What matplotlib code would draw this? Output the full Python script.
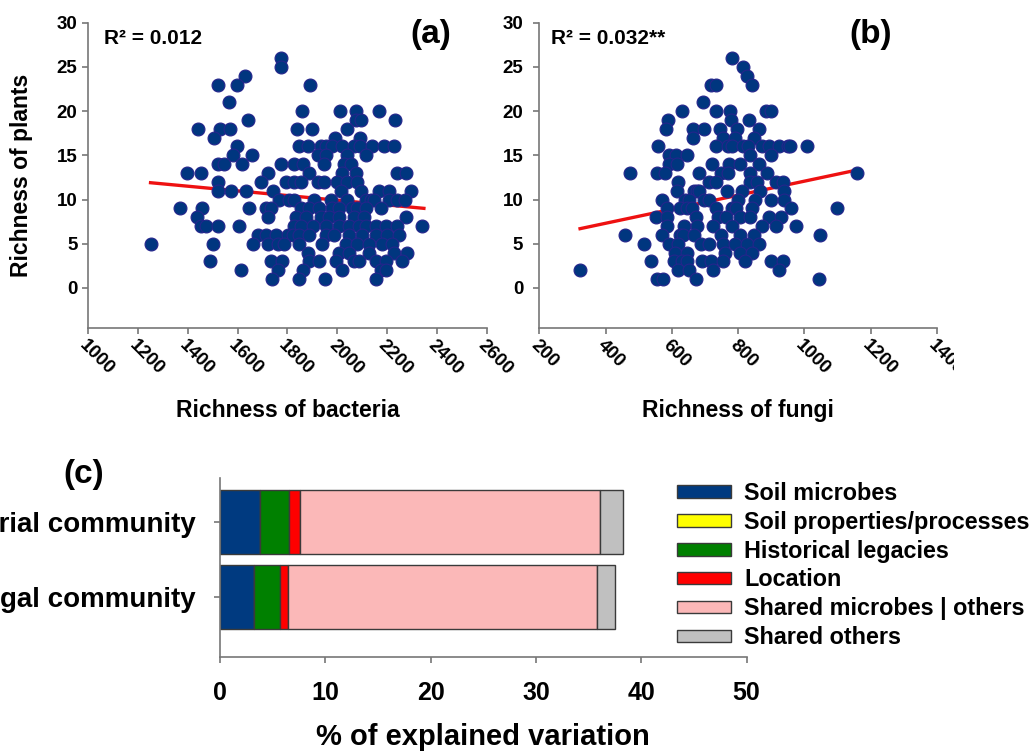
import matplotlib
matplotlib.use('Agg')
import matplotlib.pyplot as plt
from matplotlib.transforms import Bbox, TransformedBbox

# ---- panel (a): plant richness vs bacterial richness ----
bact_rich = [
    1776,
    1776,
    1632,
    1521, 1596, 1891,
    1565,
    1859, 2011, 2077, 2168,
    1643, 2075, 2095, 2231,
    1441, 1528, 1571, 1839, 1899, 2041,
    1504, 1992, 2092,
    1597, 1848, 1881, 1935, 1955, 1981, 2021, 2068, 2091, 2139, 2188, 2228,
    1581, 1659, 1921, 1955, 2041, 2115,
    1521, 1544, 1619, 1775, 1828, 1861, 1948, 2028, 2055,
    1399, 1452, 1721, 1888, 2021, 2075, 2241, 2275,
    1521, 1695, 1795, 1828, 1855, 1921, 1948, 2001, 2041, 2081,
    1521, 1575, 1635, 1741, 2015, 2095, 2168, 2208, 2295,
    1768, 1808, 1828, 1908, 1975, 2041, 2115, 2135, 2148, 2208, 2241, 2272,
    1368, 1459, 1645, 1715, 1735, 1855, 1888, 1928, 1981, 2008, 2061, 2081, 2115, 2175,
    1437, 1721, 1835, 1875, 1935, 1968, 2008, 2068, 2108, 2275,
    1455, 1475, 1521, 1604, 1828, 1855, 1901, 1955, 2008, 2048, 2088, 2115, 2155, 2195, 2241, 2341,
    1681, 1715, 1755, 1801, 1821, 1848, 1888, 1955, 1988, 2048, 2101, 2155, 2201, 2248,
    1252, 1501, 1661, 1721, 1761, 1788, 1848, 1941, 2035, 2081, 2128, 2181, 2221,
    1881, 2008, 2048, 2128, 2228, 2281,
    1488, 1735, 1779, 1888, 1928, 1995, 2068, 2088, 2155, 2195, 2261,
    1615, 1761, 1861, 2021, 2175, 2195,
    1739, 1848, 1952, 2155,
]
plants_a = [
    26,
    25,
    24,
    23, 23, 23,
    21,
    20, 20, 20, 20,
    19, 19, 19, 19,
    18, 18, 18, 18, 18, 18,
    17, 17, 17,
    16, 16, 16, 16, 16, 16, 16, 16, 16, 16, 16, 16,
    15, 15, 15, 15, 15, 15,
    14, 14, 14, 14, 14, 14, 14, 14, 14,
    13, 13, 13, 13, 13, 13, 13, 13,
    12, 12, 12, 12, 12, 12, 12, 12, 12, 12,
    11, 11, 11, 11, 11, 11, 11, 11, 11,
    10, 10, 10, 10, 10, 10, 10, 10, 10, 10, 10, 10,
    9, 9, 9, 9, 9, 9, 9, 9, 9, 9, 9, 9, 9, 9,
    8, 8, 8, 8, 8, 8, 8, 8, 8, 8,
    7, 7, 7, 7, 7, 7, 7, 7, 7, 7, 7, 7, 7, 7, 7, 7,
    6, 6, 6, 6, 6, 6, 6, 6, 6, 6, 6, 6, 6, 6,
    5, 5, 5, 5, 5, 5, 5, 5, 5, 5, 5, 5, 5,
    4, 4, 4, 4, 4, 4,
    3, 3, 3, 3, 3, 3, 3, 3, 3, 3, 3,
    2, 2, 2, 2, 2, 2,
    1, 1, 1, 1,
]
fit_a_x = [1251, 2348]
fit_a_y = [11.9, 9.0]

# ---- panel (b): plant richness vs fungal richness ----
fungi_rich = [
    780,
    816,
    826,
    718, 734, 842,
    694,
    631, 734, 775, 883, 899,
    588, 778, 834,
    581, 664, 698, 744, 798, 862,
    664, 754, 790, 847,
    557, 734, 770, 780, 816, 831, 873, 893, 924, 950, 955, 1009,
    592, 612, 646, 837, 900,
    590, 615, 720, 772, 806, 862,
    474, 554, 580, 681, 749, 770, 837, 888, 1160,
    620, 713, 734, 837, 856, 913, 934,
    615, 667, 675, 682, 765, 811, 867, 939,
    570, 641, 651, 698, 713, 800, 852, 898, 939,
    584, 626, 646, 660, 734, 780, 793, 842, 958, 1099,
    552, 584, 672, 740, 762, 806, 837, 893, 929,
    584, 636, 677, 723, 780, 873, 913, 975,
    458, 569, 626, 634, 667, 749, 806, 847, 1047,
    516, 590, 620, 687, 713, 754, 790, 826, 862,
    610, 646, 759, 806, 842,
    536, 605, 630, 646, 692, 718, 754, 821, 900, 934,
    324, 620, 651, 723, 924,
    554, 574, 672, 1045,
]
plants_b = [
    26,
    25,
    24,
    23, 23, 23,
    21,
    20, 20, 20, 20, 20,
    19, 19, 19,
    18, 18, 18, 18, 18, 18,
    17, 17, 17, 17,
    16, 16, 16, 16, 16, 16, 16, 16, 16, 16, 16, 16,
    15, 15, 15, 15, 15,
    14, 14, 14, 14, 14, 14,
    13, 13, 13, 13, 13, 13, 13, 13, 13,
    12, 12, 12, 12, 12, 12, 12,
    11, 11, 11, 11, 11, 11, 11, 11,
    10, 10, 10, 10, 10, 10, 10, 10, 10,
    9, 9, 9, 9, 9, 9, 9, 9, 9, 9,
    8, 8, 8, 8, 8, 8, 8, 8, 8,
    7, 7, 7, 7, 7, 7, 7, 7,
    6, 6, 6, 6, 6, 6, 6, 6, 6,
    5, 5, 5, 5, 5, 5, 5, 5, 5,
    4, 4, 4, 4, 4,
    3, 3, 3, 3, 3, 3, 3, 3, 3, 3,
    2, 2, 2, 2, 2,
    1, 1, 1, 1,
]
fit_b_x = [323, 1148]
fit_b_y = [6.7, 13.25]

# ---- panel (c): variation partitioning ----
communities = ['Bacterial community', 'Fungal community']
part_names = ['Soil microbes', 'Soil properties/processes', 'Historical legacies',
              'Location', 'Shared microbes | others', 'Shared others']
soil_microbes = [3.8, 3.26]
soil_props = [0.0, 0.0]
hist_legacies = [2.75, 2.47]
location = [1.08, 0.73]
shared_microbes = [28.47, 29.34]
shared_others = [2.2, 1.7]
part_colors = ['#003a80', '#ffff00', '#008000', '#ff0000', '#fbb8b8', '#c0c0c0']

plt.rcParams['font.family'] = ['Liberation Sans', 'DejaVu Sans']
plt.rcParams['font.weight'] = 'bold'

W, H = 1034, 753
fig = plt.figure(figsize=(W / 100, H / 100), dpi=100)

def px_rect(left, top, right, bottom):
    return [left / W, 1 - bottom / H, (right - left) / W, (bottom - top) / H]

ax_a = fig.add_axes(px_rect(88, 22.7, 486.7, 327.7))
ax_b = fig.add_axes(px_rect(539.3, 22.7, 937, 327.7))
ax_c = fig.add_axes(px_rect(220, 478, 746.5, 657))

axis_grey = '#777777'

def style_axes(ax):
    for s in ['top', 'right']:
        ax.spines[s].set_visible(False)
    for s in ['left', 'bottom']:
        ax.spines[s].set_color(axis_grey)
        ax.spines[s].set_linewidth(1.2)
    ax.tick_params(direction='out', length=4.5, width=1.2, color=axis_grey)

def scatter_panel(ax, xs, ys, fx, fy, xlim, xticks, ypad):
    ax.plot(fx, fy, color='#ee1111', lw=2.4, zorder=2)
    ax.scatter(xs, ys, s=86, c='#00367f', edgecolors='#25258c', linewidths=0.8, zorder=3)
    ax.set_xlim(xlim)
    ax.set_ylim(-4.5, 30)
    ax.set_yticks(range(0, 31, 5))
    ax.set_xticks(xticks)
    ax.set_xticklabels([str(t) for t in xticks], rotation=-45, ha='left', va='top',
                       rotation_mode='anchor')
    style_axes(ax)
    ax.tick_params(axis='both', labelsize=13.5)
    ax.tick_params(axis='y', pad=ypad)
    ax.tick_params(axis='x', pad=2)

scatter_panel(ax_a, bact_rich, plants_a, fit_a_x, fit_a_y, (1000, 2600),
              list(range(1000, 2601, 200)), 3)
scatter_panel(ax_b, fungi_rich, plants_b, fit_b_x, fit_b_y, (200, 1400),
              list(range(200, 1401, 200)), 7)

# last fungal tick label is cut off in the original
lab = ax_b.get_xticklabels()[-1]
lab.set_clip_box(TransformedBbox(Bbox([[0, 0], [954 / W, 1]]), fig.transFigure))
lab.set_clip_on(True)

fig.text(21.7 / W, 1 - 175 / H, 'Richness of plants', rotation=90, fontsize=16.5,
         ha='center', va='center')
fig.text(287.5 / W, 1 - 411 / H, 'Richness of bacteria', fontsize=16.5, ha='center', va='center')
fig.text(738 / W, 1 - 411 / H, 'Richness of fungi', fontsize=16.5, ha='center', va='center')
fig.text(104 / W, 1 - 38 / H, 'R² = 0.012', fontsize=15, ha='left', va='center')
fig.text(551 / W, 1 - 38 / H, 'R² = 0.032**', fontsize=15, ha='left', va='center')
fig.text(431 / W, 1 - 35 / H, '(a)', fontsize=24, ha='center', va='center')
fig.text(871 / W, 1 - 35 / H, '(b)', fontsize=24, ha='center', va='center')
fig.text(83.5 / W, 1 - 474 / H, '(c)', fontsize=24, ha='center', va='center')

# stacked horizontal bars
parts = [soil_microbes, soil_props, hist_legacies, location, shared_microbes, shared_others]
ypos = list(range(len(communities)))
left = [0.0] * len(communities)
handles = []
for name, vals, col in zip(part_names, parts, part_colors):
    b = ax_c.barh(ypos, vals, left=left, height=0.86, color=col, edgecolor='#3a3a3a',
                  linewidth=1.0, label=name, zorder=2)
    handles.append(b)
    left = [l + v for l, v in zip(left, vals)]

ax_c.set_xlim(0, 50)
ax_c.set_ylim(1.8, -0.587)
ax_c.set_xticks(range(0, 51, 10))
ax_c.set_yticks(ypos)
ax_c.set_yticklabels(communities)
style_axes(ax_c)
ax_c.tick_params(axis='x', labelsize=18, pad=13)
ax_c.tick_params(axis='y', labelsize=20, pad=13)

fig.text(483 / W, 1 - 737 / H, '% of explained variation', fontsize=21, ha='center', va='center')

fig.legend(handles, part_names, loc='upper left', bbox_to_anchor=(677 / W, 1 - 482 / H),
           frameon=False, fontsize=16.8, handlelength=2.32, handleheight=0.45,
           handletextpad=0.55, labelspacing=0.25, borderpad=0, borderaxespad=0)

fig.savefig('out.png', dpi=100)
